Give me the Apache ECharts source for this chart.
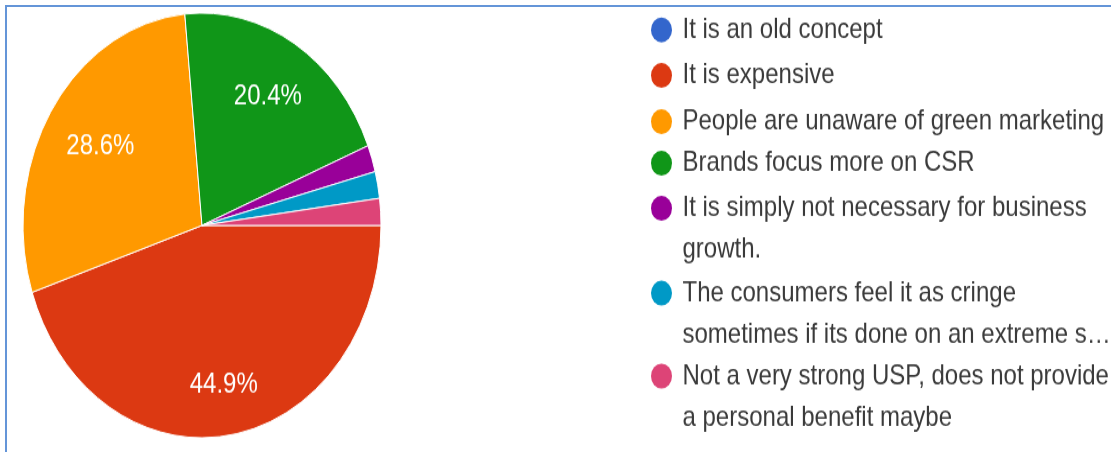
<!DOCTYPE html>
<html>
<head>
<meta charset="utf-8">
<script src="https://cdn.jsdelivr.net/npm/echarts@6/dist/echarts.min.js"></script>
<style>
  html, body { margin: 0; padding: 0; background: #fff; overflow: hidden; }
  #frame {
    position: absolute; left: 5px; top: 5px; right: 0; bottom: 0;
    border-left: 2px solid #6495d8; border-top: 2px solid #6495d8;
  }
  /* the chart is laid out on a shorter canvas and stretched to the full height */
  #chart {
    position: absolute; left: 0; top: 0; width: 1111px; height: 381px;
    transform: scaleY(1.18635); transform-origin: 0 0;
  }
</style>
</head>
<body>
<div id="frame"></div>
<div id="chart"></div>
<script>
// Response categories ("\n" marks where a legend label wraps)
const categories = [
  'It is an old concept',
  'It is expensive',
  'People are unaware of green marketing',
  'Brands focus more on CSR',
  'It is simply not necessary for business\ngrowth.',
  'The consumers feel it as cringe\nsometimes if its done on an extreme s…',
  'Not a very strong USP, does not provide\na personal benefit maybe'
];
// Number of responses per category
const responses = [0, 22, 14, 10, 1, 1, 1];
const colors = ['#3366cc', '#dc3912', '#ff9900', '#109618', '#990099', '#0099c6', '#dd4477'];

// Vertical centres of the legend markers (chart pixels)
const legendRowCenters = [25.2, 63.6, 102.6, 137.6, 175.6, 247.1, 317];
const LINE_H = 35;

const CX = 202, CY = 190, R = 179;
// percentage labels sit so that their outer corner reaches this radius
const LABEL_REACH = 0.875 * R;

const chart = echarts.init(document.getElementById('chart'), null, { renderer: 'canvas' });

const legends = categories.map((name, i) => {
  const lines = name.split('\n').length;
  const blockH = lines > 1 ? LINE_H * (2 * lines - 1) : LINE_H;
  return {
    data: [name],
    orient: 'vertical',
    left: 651,
    top: legendRowCenters[i] - blockH / 2,
    padding: 0,
    icon: 'circle',
    itemWidth: 32,
    itemHeight: 21,
    itemStyle: { borderWidth: 0 },
    selectedMode: false,
    // a blank leading line keeps the marker level with the first text line
    formatter: n => (n.indexOf('\n') >= 0 ? '\n' + n : n),
    textStyle: {
      fontFamily: '"Liberation Sans", Arial, sans-serif',
      fontSize: 24,
      lineHeight: LINE_H,
      color: '#3a3a3a'
    }
  };
});

chart.setOption({
  animation: false,
  color: colors,
  legend: legends,
  series: [{
    type: 'pie',
    center: [CX, CY],
    radius: [0, R],
    startAngle: 0,
    clockwise: true,
    percentPrecision: 1,
    avoidLabelOverlap: false,
    itemStyle: { borderColor: '#ffffff', borderWidth: 1 },
    label: {
      show: true,
      position: 'inside',
      fontFamily: '"Liberation Sans", Arial, sans-serif',
      fontSize: 24,
      color: '#ffffff',
      formatter: p => (p.percent >= 5 ? p.percent + '%' : '')
    },
    labelLine: { show: false },
    emphasis: { disabled: true },
    // slide each label outward along its slice bisector until its far corner meets LABEL_REACH
    labelLayout: p => {
      const w = p.labelRect.width, h = p.labelRect.height;
      const lx = p.labelRect.x + w / 2 - CX;
      const ly = p.labelRect.y + h / 2 - CY;
      const len = Math.hypot(lx, ly) || 1;
      const ux = lx / len, uy = ly / len;
      const b = Math.abs(ux) * w / 2 + Math.abs(uy) * h / 2;
      const c = (w * w + h * h) / 4 - LABEL_REACH * LABEL_REACH;
      const d = -b + Math.sqrt(b * b - c);
      return { x: CX + ux * d, y: CY + uy * d, align: 'center', verticalAlign: 'middle' };
    },
    data: categories.map((name, i) => ({ name, value: responses[i] }))
  }]
});
</script>
</body>
</html>
